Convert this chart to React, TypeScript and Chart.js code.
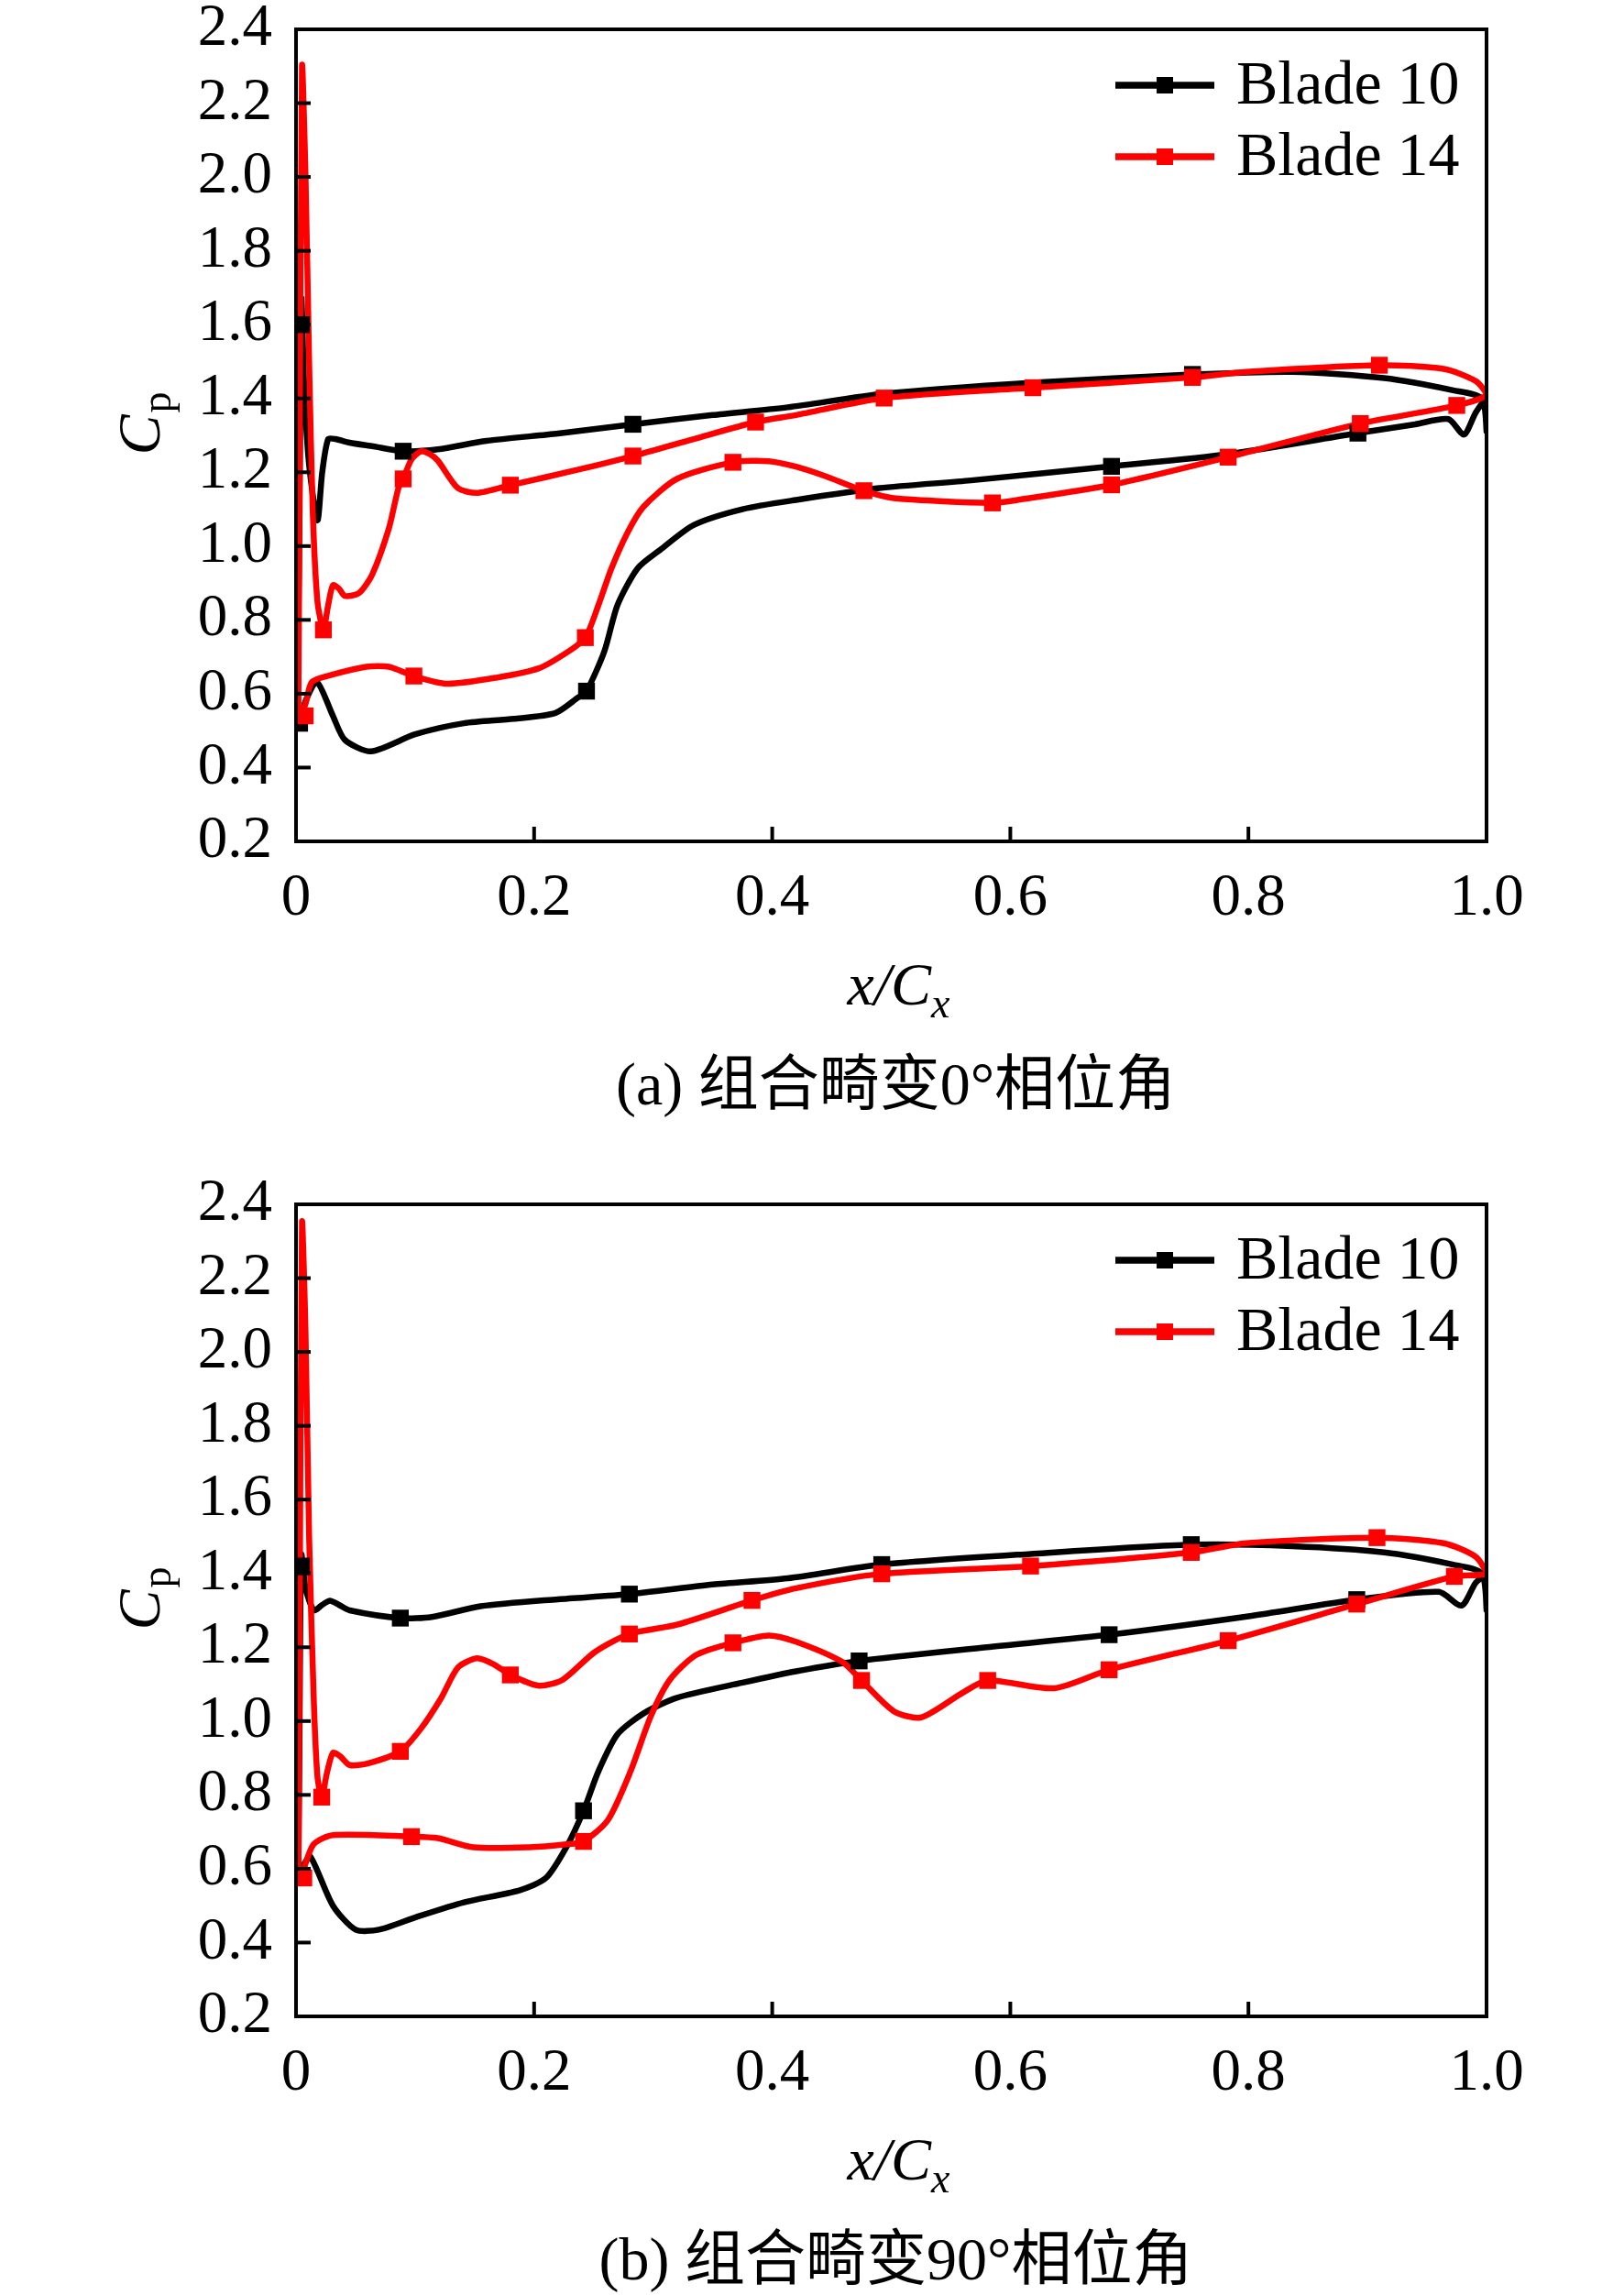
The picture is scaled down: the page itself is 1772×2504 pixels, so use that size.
import React, { useEffect, useRef } from 'react';
import { Chart, registerables } from 'chart.js';

Chart.register(...registerables);

const FONT = '"Liberation Serif", "Times New Roman", serif';
const CJK = '"Liberation Serif", "Noto Sans CJK SC", serif';

const xTicks = [0, 0.2, 0.4, 0.6, 0.8, 1.0];
const yTicks = [0.2, 0.4, 0.6, 0.8, 1.0, 1.2, 1.4, 1.6, 1.8, 2.0, 2.2, 2.4];
const seriesNames = ['Blade 10', 'Blade 14'];
const seriesColors = ['#000000', '#ff0000'];

// (a) 0 deg phase: each blade is one closed loop (suction side out, pressure side back)
const a10X = [0.001, 0.003, 0.0045, 0.007, 0.011, 0.018, 0.022, 0.027, 0.033, 0.045, 0.065, 0.09, 0.119, 0.16, 0.22, 0.283, 0.35, 0.413, 0.494, 0.619, 0.753, 0.837, 0.914, 0.972, 0.996, 1.0, 0.998, 0.991, 0.981, 0.968, 0.94, 0.892, 0.783, 0.685, 0.567, 0.49, 0.42, 0.375, 0.334, 0.306, 0.287, 0.27, 0.259, 0.244, 0.237, 0.218, 0.183, 0.141, 0.1, 0.063, 0.041, 0.031, 0.0175, 0.008, 0.002];
const a10Y = [0.52, 1.1, 1.67, 1.42, 1.22, 1.07, 1.2, 1.29, 1.29, 1.28, 1.27, 1.257, 1.262, 1.285, 1.305, 1.33, 1.355, 1.376, 1.413, 1.443, 1.465, 1.472, 1.455, 1.422, 1.4, 1.31, 1.39, 1.362, 1.302, 1.344, 1.33, 1.306, 1.249, 1.216, 1.178, 1.157, 1.125, 1.1, 1.057, 0.99, 0.94, 0.84, 0.715, 0.607, 0.59, 0.548, 0.532, 0.52, 0.49, 0.444, 0.475, 0.54, 0.632, 0.58, 0.52];
const a10MarkX = [0.0045, 0.09, 0.283, 0.753, 0.003, 0.244, 0.685, 0.892];
const a10MarkY = [1.6, 1.257, 1.33, 1.465, 0.52, 0.607, 1.216, 1.306];

const a14X = [0.002, 0.003, 0.005, 0.008, 0.011, 0.014, 0.018, 0.023, 0.027, 0.031, 0.036, 0.041, 0.053, 0.064, 0.078, 0.086, 0.09, 0.097, 0.105, 0.112, 0.119, 0.136, 0.152, 0.18, 0.237, 0.283, 0.334, 0.386, 0.42, 0.494, 0.619, 0.753, 0.798, 0.91, 0.964, 0.991, 1.0, 0.975, 0.894, 0.783, 0.685, 0.606, 0.585, 0.502, 0.477, 0.444, 0.42, 0.397, 0.367, 0.32, 0.292, 0.279, 0.265, 0.254, 0.243, 0.229, 0.204, 0.169, 0.127, 0.099, 0.078, 0.059, 0.031, 0.0134, 0.0077, 0.002];
const a14Y = [0.56, 1.2, 2.3, 2.0, 1.5, 1.1, 0.85, 0.773, 0.84, 0.894, 0.885, 0.865, 0.873, 0.923, 1.048, 1.157, 1.182, 1.235, 1.257, 1.25, 1.232, 1.157, 1.144, 1.165, 1.207, 1.244, 1.29, 1.336, 1.355, 1.401, 1.429, 1.457, 1.472, 1.49, 1.48, 1.447, 1.41, 1.381, 1.332, 1.241, 1.166, 1.125, 1.117, 1.13, 1.15, 1.19, 1.215, 1.23, 1.227, 1.182, 1.107, 1.04, 0.94, 0.84, 0.752, 0.715, 0.669, 0.644, 0.627, 0.648, 0.673, 0.673, 0.652, 0.632, 0.57, 0.54];
const a14MarkX = [0.023, 0.09, 0.18, 0.283, 0.386, 0.494, 0.619, 0.753, 0.91, 0.0077, 0.099, 0.243, 0.367, 0.477, 0.585, 0.685, 0.783, 0.894, 0.975];
const a14MarkY = [0.773, 1.182, 1.165, 1.244, 1.336, 1.401, 1.429, 1.457, 1.49, 0.54, 0.648, 0.752, 1.227, 1.15, 1.117, 1.166, 1.241, 1.332, 1.381];

// (b) 90 deg phase
const b10X = [0.002, 0.003, 0.0045, 0.008, 0.015, 0.022, 0.0285, 0.036, 0.045, 0.0876, 0.114, 0.155, 0.22, 0.28, 0.35, 0.413, 0.492, 0.617, 0.752, 0.837, 0.914, 0.972, 0.996, 1.0, 0.998, 0.991, 0.979, 0.96, 0.891, 0.8, 0.683, 0.58, 0.473, 0.42, 0.375, 0.32, 0.292, 0.27, 0.254, 0.2415, 0.227, 0.21, 0.188, 0.141, 0.1, 0.0697, 0.05, 0.031, 0.012, 0.006, 0.002];
const b10Y = [0.6, 1.0, 1.45, 1.36, 1.3, 1.315, 1.326, 1.315, 1.3, 1.279, 1.282, 1.311, 1.33, 1.344, 1.37, 1.387, 1.424, 1.453, 1.478, 1.474, 1.457, 1.424, 1.4, 1.3, 1.39, 1.375, 1.313, 1.35, 1.329, 1.284, 1.234, 1.2, 1.163, 1.135, 1.104, 1.063, 1.021, 0.964, 0.864, 0.757, 0.658, 0.575, 0.542, 0.509, 0.468, 0.435, 0.435, 0.5, 0.633, 0.61, 0.6];
const b10MarkX = [0.0045, 0.0876, 0.28, 0.492, 0.752, 0.2415, 0.473, 0.683, 0.891];
const b10MarkY = [1.42, 1.279, 1.344, 1.424, 1.478, 0.757, 1.163, 1.234, 1.329];

const b14X = [0.002, 0.003, 0.005, 0.008, 0.011, 0.015, 0.018, 0.0216, 0.026, 0.031, 0.037, 0.045, 0.06, 0.0876, 0.105, 0.122, 0.136, 0.152, 0.166, 0.18, 0.204, 0.224, 0.251, 0.28, 0.32, 0.383, 0.42, 0.492, 0.617, 0.752, 0.798, 0.908, 0.964, 0.991, 1.0, 0.973, 0.891, 0.783, 0.683, 0.637, 0.581, 0.56, 0.525, 0.502, 0.475, 0.459, 0.42, 0.397, 0.367, 0.336, 0.314, 0.298, 0.281, 0.262, 0.2415, 0.227, 0.196, 0.149, 0.119, 0.097, 0.031, 0.0147, 0.0065, 0.002];
const b14Y = [0.56, 1.2, 2.35, 2.05, 1.5, 1.05, 0.85, 0.794, 0.86, 0.914, 0.905, 0.881, 0.885, 0.918, 0.98, 1.063, 1.145, 1.17, 1.154, 1.125, 1.096, 1.112, 1.187, 1.236, 1.261, 1.327, 1.36, 1.399, 1.42, 1.457, 1.482, 1.497, 1.482, 1.445, 1.4, 1.392, 1.317, 1.218, 1.139, 1.089, 1.11, 1.077, 1.01, 1.027, 1.11, 1.16, 1.215, 1.232, 1.212, 1.179, 1.112, 1.013, 0.864, 0.732, 0.674, 0.666, 0.658, 0.658, 0.683, 0.687, 0.691, 0.666, 0.6, 0.56];
const b14MarkX = [0.0216, 0.0876, 0.18, 0.28, 0.383, 0.492, 0.617, 0.752, 0.908, 0.0065, 0.097, 0.2415, 0.367, 0.475, 0.581, 0.683, 0.783, 0.891, 0.973];
const b14MarkY = [0.794, 0.918, 1.125, 1.236, 1.327, 1.399, 1.42, 1.457, 1.497, 0.575, 0.687, 0.674, 1.212, 1.11, 1.11, 1.139, 1.218, 1.317, 1.392];

const pts = (xs: number[], ys: number[]) => xs.map((x, i) => ({ x, y: ys[i] }));

type Props = {
  height: number;
  caption: string;
  lines: { x: number[]; y: number[] }[];
  marks: { x: number[]; y: number[] }[];
};

const framePlugin = (caption: string) => ({
  id: 'frame',
  afterDraw(chart: any) {
    const { ctx, chartArea: ca, scales } = chart;
    const xs = scales.x;
    const ys = scales.y;
    ctx.save();
    ctx.strokeStyle = '#000';
    ctx.lineWidth = 4;
    ctx.strokeRect(ca.left, ca.top, ca.right - ca.left, ca.bottom - ca.top);

    // inward tick marks
    ys.ticks.forEach((t: any, i: number) => {
      if (i === 0 || i === ys.ticks.length - 1) return;
      const y = ys.getPixelForValue(t.value);
      ctx.beginPath();
      ctx.moveTo(ca.left, y);
      ctx.lineTo(ca.left + 16, y);
      ctx.stroke();
    });
    xs.ticks.forEach((t: any, i: number) => {
      if (i === 0 || i === xs.ticks.length - 1) return;
      const x = xs.getPixelForValue(t.value);
      ctx.beginPath();
      ctx.moveTo(x, ca.bottom);
      ctx.lineTo(x, ca.bottom - 16);
      ctx.stroke();
    });

    // legend
    seriesNames.forEach((name, i) => {
      const y = ca.top + 61 + i * 78;
      const x0 = ca.right - 405;
      ctx.strokeStyle = seriesColors[i];
      ctx.fillStyle = seriesColors[i];
      ctx.lineWidth = 7.5;
      ctx.beginPath();
      ctx.moveTo(x0, y);
      ctx.lineTo(x0 + 108, y);
      ctx.stroke();
      ctx.fillRect(x0 + 54 - 9, y - 9, 18, 18);
      ctx.fillStyle = '#000';
      ctx.font = `68px ${FONT}`;
      ctx.textAlign = 'left';
      ctx.textBaseline = 'alphabetic';
      ctx.fillText(name, x0 + 132, y + 20);
    });

    // y title C_p
    ctx.save();
    ctx.translate(152, (ca.top + ca.bottom) / 2 - 12);
    ctx.rotate(-Math.PI / 2);
    ctx.font = `italic 66px ${FONT}`;
    const wC = ctx.measureText('C').width;
    ctx.font = `46px ${FONT}`;
    const wp = ctx.measureText('p').width;
    const s = -(wC + wp) / 2;
    ctx.fillStyle = '#000';
    ctx.textAlign = 'left';
    ctx.textBaseline = 'alphabetic';
    ctx.font = `italic 66px ${FONT}`;
    ctx.fillText('C', s, 22);
    ctx.font = `46px ${FONT}`;
    ctx.fillText('p', s + wC + 2, 34);
    ctx.restore();

    // x title x/C_x
    ctx.fillStyle = '#000';
    ctx.textAlign = 'left';
    ctx.textBaseline = 'alphabetic';
    ctx.font = `italic 66px ${FONT}`;
    const wMain = ctx.measureText('x/C').width;
    ctx.font = `italic 46px ${FONT}`;
    const wSub = ctx.measureText('x').width;
    const cx = (ca.left + ca.right) / 2 + 8;
    const sx = cx - (wMain + wSub) / 2;
    const by = ca.bottom + 178;
    ctx.font = `italic 66px ${FONT}`;
    ctx.fillText('x/C', sx, by);
    ctx.font = `italic 46px ${FONT}`;
    ctx.fillText('x', sx + wMain, by + 14);

    // caption
    ctx.font = `66px ${CJK}`;
    ctx.textAlign = 'center';
    ctx.fillText(caption, (ca.left + ca.right) / 2 + 5, ca.bottom + 287);
    ctx.restore();
  },
});

const CpChart = ({ height, caption, lines, marks }: Props) => {
  const chartRef = useRef<HTMLCanvasElement | null>(null);

  useEffect(() => {
    const datasets: any[] = [];
    lines.forEach((l, i) => {
      datasets.push({
        label: seriesNames[i],
        data: pts(l.x, l.y),
        showLine: true,
        borderColor: seriesColors[i],
        borderWidth: 6.5,
        pointRadius: 0,
        tension: 0.25,
        fill: false,
        order: i === 0 ? 3 : 2,
      });
    });
    marks.forEach((m, i) => {
      datasets.push({
        label: seriesNames[i] + ' marks',
        data: pts(m.x, m.y),
        showLine: false,
        pointStyle: 'rect',
        pointRadius: 13,
        pointBorderWidth: 0,
        backgroundColor: seriesColors[i],
        borderColor: seriesColors[i],
        order: i === 0 ? 1 : 0,
      });
    });

    const chart = new Chart(chartRef.current as HTMLCanvasElement, {
      type: 'scatter',
      data: { datasets },
      options: {
        animation: false,
        responsive: false,
        events: [],
        layout: {
          autoPadding: false,
          padding: { left: 0, top: 32, right: 150, bottom: height - 918 - 100 },
        },
        plugins: {
          legend: { display: false },
          tooltip: { enabled: false },
        },
        scales: {
          x: {
            type: 'linear',
            min: 0,
            max: 1,
            grid: { display: false, drawTicks: false },
            border: { display: false },
            afterBuildTicks: (s: any) => {
              s.ticks = xTicks.map((v) => ({ value: v }));
            },
            afterFit: (s: any) => {
              s.height = 100;
              s.paddingLeft = 0;
              s.paddingRight = 0;
            },
            ticks: {
              padding: 24,
              maxRotation: 0,
              autoSkip: false,
              color: '#000',
              font: { family: FONT, size: 65 },
              callback: (v: any) => (Number(v) === 0 ? '0' : Number(v).toFixed(1)),
            },
          },
          y: {
            type: 'linear',
            min: 0.2,
            max: 2.4,
            grid: { display: false, drawTicks: false },
            border: { display: false },
            afterBuildTicks: (s: any) => {
              s.ticks = yTicks.map((v) => ({ value: v }));
            },
            afterFit: (s: any) => {
              s.width = 323;
              s.paddingTop = 0;
              s.paddingBottom = 0;
            },
            ticks: {
              padding: 26,
              autoSkip: false,
              color: '#000',
              font: { family: FONT, size: 65 },
              callback: (v: any) => Number(v).toFixed(1),
            },
          },
        },
      } as any,
      plugins: [framePlugin(caption)],
    });

    return () => {
      chart.destroy();
    };
  }, [height, caption, lines, marks]);

  return <canvas ref={chartRef} width={1772} height={height} style={{ display: 'block', width: 1772, height }} />;
};

const linesA = [{ x: a10X, y: a10Y }, { x: a14X, y: a14Y }];
const marksA = [{ x: a10MarkX, y: a10MarkY }, { x: a14MarkX, y: a14MarkY }];
const linesB = [{ x: b10X, y: b10Y }, { x: b14X, y: b14Y }];
const marksB = [{ x: b10MarkX, y: b10MarkY }, { x: b14MarkX, y: b14MarkY }];

export default function App() {
  return (
    <div style={{ position: 'absolute', left: 0, top: 0, width: 1772, height: 2504, background: '#fff' }}>
      <CpChart height={1282} caption="(a) 组合畸变0°相位角" lines={linesA} marks={marksA} />
      <CpChart height={1222} caption="(b) 组合畸变90°相位角" lines={linesB} marks={marksB} />
    </div>
  );
}
